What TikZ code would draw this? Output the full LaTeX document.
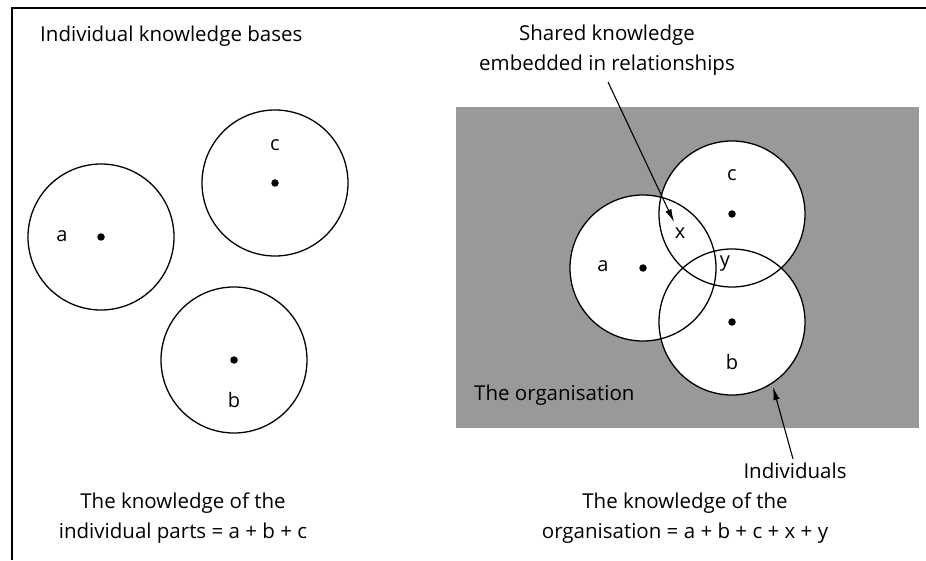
\documentclass[tikz,border=0pt]{standalone}
\usepackage{fontspec}
\setmainfont{Open Sans}
\usetikzlibrary{arrows.meta}
\begin{document}
\begin{tikzpicture}[x=1pt,y=-1pt,
  person/.style={circle,draw=black,line width=1.3pt,minimum size=146pt,inner sep=0pt},
  dotmark/.style={circle,fill=black,inner sep=0pt,minimum size=7.5pt},
  lbl/.style={font=\fontsize{20}{20}\selectfont,inner sep=0pt},
  txt/.style={font=\fontsize{20.5}{30}\selectfont,align=center,inner sep=0pt},
  pointer/.style={-{Latex[length=13pt,width=6.5pt]},line width=1.1pt}]
\useasboundingbox (0,0) rectangle (926,561);
% frame (top and left only)
\draw[line width=1.1pt] (926,8) -- (12,8) -- (12,560);
% ---------- left panel ----------
\node[txt,anchor=west] (title) at (40,36) {Individual knowledge bases};
\node[person] (La) at (101,237) {};
\node[person] (Lc) at (275,183) {};
\node[person] (Lb) at (234,360) {};
\node[dotmark] at (La.center) {};
\node[dotmark] at (Lc.center) {};
\node[dotmark] at (Lb.center) {};
\node[lbl] (la) at (62,236) {a};
\node[lbl] (lc) at (275,145) {c};
\node[lbl] (lb) at (234,400) {b};
\node[txt] (lsum) at (183,518) {The knowledge of the\\individual parts = a + b + c};
% ---------- right panel ----------
\fill[black!40] (456,107) rectangle (919,428);
\coordinate (Ra) at (643,268);
\coordinate (Rc) at (732,214);
\coordinate (Rb) at (732,322);
\fill[white] (Ra) circle (73) (Rc) circle (73) (Rb) circle (73);
\node[person] (ca) at (Ra) {};
\node[person] (cc) at (Rc) {};
\node[person] (cb) at (Rb) {};
\node[dotmark] at (Ra) {};
\node[dotmark] at (Rc) {};
\node[dotmark] at (Rb) {};
\node[lbl] (ra) at (603,266) {a};
\node[lbl] (rc) at (732,175) {c};
\node[lbl] (rb) at (732,362) {b};
\node[lbl] (rx) at (680,233) {x};
\node[lbl] (ry) at (725,264) {y};
\node[txt,anchor=west] (org) at (474,395) {The organisation};
\node[txt] (shared) at (607,50) {Shared knowledge\\embedded in relationships};
\coordinate (xtip) at (674,222);
\draw[pointer] (608,82) -- (xtip);
\node[txt] (indiv) at (795,471) {Individuals};
\coordinate (itip) at (773,387);
\draw[pointer] (indiv.north) ++(-2,-4) -- (itip);
\node[txt] (rsum) at (685,518) {The knowledge of the\\organisation = a + b + c + x + y};
\end{tikzpicture}
\end{document}
